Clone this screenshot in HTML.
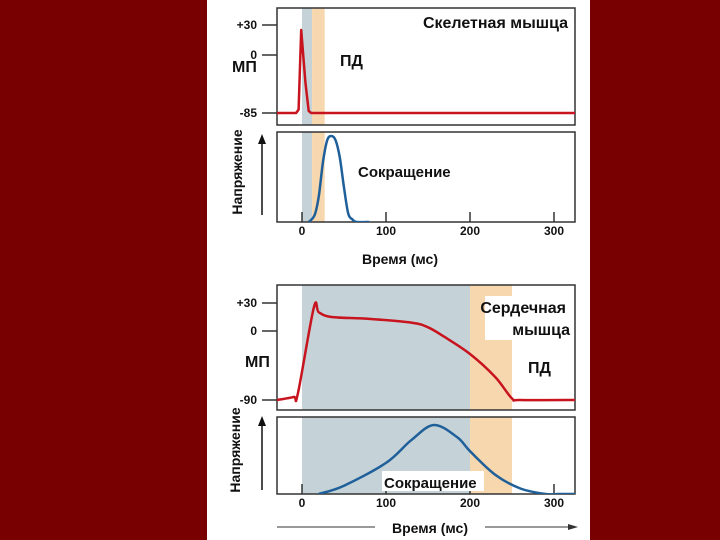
<!DOCTYPE html>
<html><head><meta charset="utf-8"><style>
body{margin:0;width:720px;height:540px;background:#780000;overflow:hidden}
svg{position:absolute;left:0;top:0}
text{font-family:"Liberation Sans",sans-serif;font-weight:bold;fill:#111}
</style></head><body>
<svg id="s" width="720" height="540">
<rect x="207" y="0" width="383" height="540" fill="#fff"/>
<defs><clipPath id="c1"><rect x="277" y="8" width="298" height="117"/></clipPath>
<clipPath id="c2"><rect x="277" y="132" width="298" height="90"/></clipPath>
<clipPath id="c3"><rect x="277" y="285" width="298" height="125"/></clipPath>
<clipPath id="c4"><rect x="277" y="417" width="298" height="77"/></clipPath></defs>
</svg>
<script>
const xTicks=[0,100,200,300];
// skeletal
const skApT=[-30,-7,-4,-1,4,8,11,330];
const skApV=[-85,-85,-80,25,-40,-82,-85,-85];
const skTwT=[8,15,20,25,30,35,40,45,50,55,60,65,80];
const skTwF=[0,8,30,70,95,100,95,75,40,10,3,0,0];
const skYTickV=[-85,0,30];
const skYTickLbl=["-85","0","+30"];
// cardiac
const caApT=[-30,-10,-5,14,20,35,80,130,150,170,200,230,250,260,330];
const caApV=[-90,-86,-82,25,20,15,13,9,4,-8,-30,-60,-88,-90,-90];
const caTwT=[20,50,100,130,157,185,200,230,260,290,305,330];
const caTwF=[0,12,45,78,100,82,62,28,8,0,0,0];
const caYTickV=[-90,0,30];
const caYTickLbl=["-90","0","+30"];

const s=document.getElementById('s');const NS="http://www.w3.org/2000/svg";
function el(tag,attrs,name,txt){const e=document.createElementNS(NS,tag);for(const k in attrs)e.setAttribute(k,attrs[k]);


if(txt!==undefined)e.textContent=txt;s.appendChild(e);return e;}
const X=t=>302+t*0.84;
function mkY(vals,ys){return v=>{for(let i=0;i<vals.length-1;i++){if(v<=vals[i+1]||i==vals.length-2){const a=vals[i],b=vals[i+1];return ys[i]+(v-a)/(b-a)*(ys[i+1]-ys[i]);}}};}
function path(T,V,yf,smooth){const P=T.map((t,i)=>[X(t),yf(V[i])]);
 if(!smooth)return P.map((p,i)=>(i?'L':'M')+p[0].toFixed(1)+','+p[1].toFixed(1)).join(' ');
 let d='M'+P[0][0]+','+P[0][1];
 for(let i=0;i<P.length-1;i++){const p0=P[Math.max(0,i-1)],p1=P[i],p2=P[i+1],p3=P[Math.min(P.length-1,i+2)];
  const c1=[p1[0]+(p2[0]-p0[0])/6,p1[1]+(p2[1]-p0[1])/6],c2=[p2[0]-(p3[0]-p1[0])/6,p2[1]-(p3[1]-p1[1])/6];
  d+=` C${c1[0].toFixed(1)},${c1[1].toFixed(1)} ${c2[0].toFixed(1)},${c2[1].toFixed(1)} ${p2[0].toFixed(1)},${p2[1].toFixed(1)}`;}
 return d;}

function chart(o){
 el('rect',{x:X(o.b1[0]),y:o.top,width:X(o.b1[1])-X(o.b1[0]),height:o.bot2-o.top,fill:'#c5d3d8'},'contraction-band');
 el('rect',{x:X(o.b2[0]),y:o.top,width:X(o.b2[1])-X(o.b2[0]),height:o.bot2-o.top,fill:'#f7d7ae'},'refractory-band');
 el('rect',{x:207,y:o.bot1,width:383,height:o.top2-o.bot1,fill:'#fff'},'panel-gap');
 el('rect',{x:277,y:o.top,width:298,height:o.bot1-o.top,fill:'none',stroke:'#333','stroke-width':1.5},'ap-frame');
 el('rect',{x:277,y:o.top2,width:298,height:o.bot2-o.top2,fill:'none',stroke:'#333','stroke-width':1.5},'twitch-frame');
 const Y=mkY(o.tv,o.ty);
 o.tv.forEach((v,i)=>{el('line',{x1:262,x2:277,y1:Y(v),y2:Y(v),stroke:'#333','stroke-width':1.5},'y-tick');
  el('text',{x:257,y:Y(v)+4,'text-anchor':'end','font-size':12},'y-tick-label',o.tl[i]);});
 xTicks.forEach(t=>{el('line',{x1:X(t),x2:X(t),y1:o.bot2-10,y2:o.bot2,stroke:'#333','stroke-width':1.5},'x-tick');
  el('text',{x:X(t),y:o.bot2+13,'text-anchor':'middle','font-size':12},'x-tick-label',String(t));});
 el('path',{d:path(o.apT,o.apV,Y,o.smoothAp),fill:'none',stroke:'#c8141e','stroke-width':2.5,'stroke-linejoin':'round','clip-path':o.c1},'action-potential-line');
 const ty=f=>o.bot2-f*o.ts;
 el('path',{d:path(o.twT,o.twF,ty,true),fill:'none',stroke:'#1f5f9a','stroke-width':2.5,'stroke-linejoin':'round','clip-path':o.c2},'contraction-line');
}
chart({top:8,bot1:125,top2:132,bot2:222,b1:[0,12],b2:[12,27],tv:skYTickV,ty:[113,55,25],tl:skYTickLbl,apT:skApT,apV:skApV,twT:skTwT,twF:skTwF,ts:0.86,smoothAp:false,c1:'url(#c1)',c2:'url(#c2)'});
chart({top:285,bot1:410,top2:417,bot2:494,b1:[0,200],b2:[200,250],tv:caYTickV,ty:[400,331,303],tl:caYTickLbl,apT:caApT,apV:caApV,twT:caTwT,twF:caTwF,ts:0.69,smoothAp:true,c1:'url(#c3)',c2:'url(#c4)'});

el('text',{x:568,y:28,'text-anchor':'end','font-size':16,'font-weight':'normal'},'skeletal-title','Скелетная мышца');
el('text',{x:340,y:66,'font-size':16},'ap-label-top','ПД');
el('text',{x:232,y:72,'font-size':16},'mp-label-top','МП');
el('text',{x:358,y:177,'font-size':15,'font-weight':'normal'},'contraction-label-top','Сокращение');
el('text',{x:400,y:264,'text-anchor':'middle','font-size':14},'x-axis-title-top','Время (мс)');
el('text',{x:0,y:0,transform:'translate(242,172) rotate(-90)','text-anchor':'middle','font-size':14},'y-axis-title-top','Напряжение');
el('line',{x1:262,y1:215,x2:262,y2:142,stroke:'#111','stroke-width':1.5},'y-arrow-top');
el('path',{d:'M258,144 L262,134 L266,144 Z',fill:'#111'},'y-arrowhead-top');

el('rect',{x:485,y:296,width:85,height:44,fill:'#fff'},'cardiac-title-bg');
el('text',{x:566,y:313,'text-anchor':'end','font-size':16,'font-weight':'normal'},'cardiac-title-1','Сердечная');
el('text',{x:570,y:335,'text-anchor':'end','font-size':16,'font-weight':'normal'},'cardiac-title-2','мышца');
el('text',{x:528,y:373,'font-size':16},'ap-label-bottom','ПД');
el('text',{x:245,y:367,'font-size':16},'mp-label-bottom','МП');
el('rect',{x:382,y:471,width:102,height:20,fill:'#fff'},'contraction-label-bg');
el('text',{x:384,y:488,'font-size':15,'font-weight':'normal'},'contraction-label-bottom','Сокращение');
el('text',{x:430,y:533,'text-anchor':'middle','font-size':14},'x-axis-title-bottom','Время (мс)');
el('text',{x:0,y:0,transform:'translate(240,450) rotate(-90)','text-anchor':'middle','font-size':14},'y-axis-title-bottom','Напряжение');
el('line',{x1:262,y1:490,x2:262,y2:425,stroke:'#111','stroke-width':1.5},'y-arrow-bottom');
el('path',{d:'M258,426 L262,416 L266,426 Z',fill:'#111'},'y-arrowhead-bottom');
el('line',{x1:277,y1:527,x2:375,y2:527,stroke:'#333','stroke-width':1},'time-arrow-left');
el('line',{x1:485,y1:527,x2:572,y2:527,stroke:'#333','stroke-width':1},'time-arrow-right');
el('path',{d:'M568,524 L578,527 L568,530 Z',fill:'#333'},'time-arrowhead');
</script>
</body></html>
